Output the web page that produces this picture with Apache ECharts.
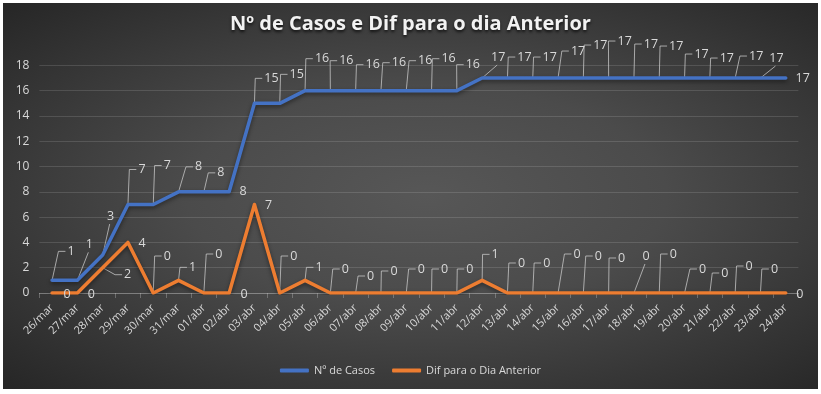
<!DOCTYPE html>
<html><head><meta charset="utf-8">
<script src="https://cdn.jsdelivr.net/npm/echarts@6/dist/echarts.min.js"></script>
<style>
html,body{margin:0;padding:0;background:#fff;width:821px;height:394px;overflow:hidden}
#c{position:absolute;left:3px;top:3px;width:815px;height:386px;
background:radial-gradient(ellipse farthest-corner at 52% 50%, #575757 0%, #4b4b4b 40%, #262626 100%);}
</style></head><body><div id="c"></div>
<script>
const titleText = 'Nº de Casos e Dif para o dia Anterior';
const seriesNames = ['Nº de Casos', 'Dif para o Dia Anterior'];
const categories = ['26/mar','27/mar','28/mar','29/mar','30/mar','31/mar','01/abr','02/abr','03/abr','04/abr',
  '05/abr','06/abr','07/abr','08/abr','09/abr','10/abr','11/abr','12/abr','13/abr','14/abr',
  '15/abr','16/abr','17/abr','18/abr','19/abr','20/abr','21/abr','22/abr','23/abr','24/abr'];
const casos = [1,1,3,7,7,8,8,8,15,15,16,16,16,16,16,16,16,17,17,17,17,17,17,17,17,17,17,17,17,17];
const dif = [0,0,2,4,0,1,0,0,7,0,1,0,0,0,0,0,0,1,0,0,0,0,0,0,0,0,0,0,0,0];
const yTicks = {min: 0, max: 18, interval: 2};

// label placement (pixel offsets of the label centre from its point) - styling only
const casosLabelOffsets = [[19,-29],[12,-36],[8,-39],[14,-35],[14,-39],[20,-25],[17,-19],[14,0],[17,-25],[17,-29],
  [17,-32],[16,-30],[17,-26],[18,-28],[19,-30],[17,-32],[16,-26],[16,-21],[17,-21],[17,-21],
  [20,-27],[17,-33],[16,-37],[17,-34],[17,-32],[17,-24],[17,-20],[21,-22],[16,-20],[17,0]];
const difLabelOffsets = [[15,1],[14,1],[25,7],[14,1],[14,-37],[14,-13],[15,-39],[15,1],[14,1],[14,-37],
  [14,-13],[15,-24],[15,-17],[13,-22],[15,-24],[13,-24],[13,-24],[13,-26],[14,-30],[14,-30],
  [19,-39],[15,-37],[13,-35],[12,-37],[14,-39],[18,-24],[15,-20],[14,-27],[14,-24],[14,1]];
const casosDiagonal = [1,2,17,28];
const difDiagonal = [23];

const FONT = '"Open Sans", "Noto Sans", sans-serif';
const LABEL_FONT = '12.5px ' + FONT;
const LEADER = 'rgba(205,205,205,0.75)';

function labelPos(api, params, offsets){
  const i = api.value(0), v = api.value(1);
  const pt = api.coord([i, v]);
  const o = offsets[params.dataIndex];
  return {px: pt[0], py: pt[1], lx: pt[0] + o[0], ly: pt[1] + o[1], dy: o[1], v: v};
}
function leaderSeries(values, offsets, diag){
  return {
    type: 'custom', silent: true, z: 1, animation: false,
    data: values.map((v, i) => [i, v]),
    encode: {x: 0, y: 1},
    renderItem: function(params, api){
      const p = labelPos(api, params, offsets);
      if (Math.abs(p.dy) <= 3) return null;
      let pts;
      if (diag.indexOf(params.dataIndex) >= 0) {
        pts = [[p.px, p.py], [p.lx - 1, p.ly + 8]];
      } else {
        const w = String(p.v).length * 7.2;
        const endX = p.lx - w/2 - 2;
        pts = [[p.px, p.py], [endX - 7, p.ly], [endX, p.ly]];
      }
      return {type: 'polyline', shape: {points: pts}, style: {stroke: LEADER, lineWidth: 1, fill: null}};
    }
  };
}
function labelSeries(values, offsets){
  return {
    type: 'custom', silent: true, z: 4, animation: false,
    data: values.map((v, i) => [i, v]),
    encode: {x: 0, y: 1},
    renderItem: function(params, api){
      const p = labelPos(api, params, offsets);
      return {type: 'text', x: p.lx, y: p.ly,
        style: {text: String(p.v), fill: '#d9d9d9', font: LABEL_FONT, align: 'center', verticalAlign: 'middle'}};
    }
  };
}
function lineSeries(name, data, color){
  return {
    name: name, type: 'line', data: data, z: 2,
    symbol: 'none', showSymbol: false,
    itemStyle: {color: color},
    lineStyle: {width: 3.5, color: color, cap: 'round', join: 'round',
      shadowColor: 'rgba(0,0,0,0.45)', shadowBlur: 4, shadowOffsetY: 2},
    emphasis: {disabled: true}, silent: true,
    animation: false
  };
}

const chart = echarts.init(document.getElementById('c'), null, {renderer: 'canvas'});
chart.setOption({
  backgroundColor: 'transparent',
  animation: false,
  title: {
    text: titleText, left: 'center', top: 6,
    textStyle: {color: '#f2f2f2', fontSize: 20, fontWeight: 'bold', fontFamily: FONT,
      textShadowColor: 'rgba(0,0,0,0.7)', textShadowBlur: 3, textShadowOffsetY: 2}
  },
  legend: {
    data: seriesNames, bottom: 8, left: 'center', itemWidth: 29, itemHeight: 4, itemGap: 17,
    icon: 'roundRect',
    textStyle: {color: '#d9d9d9', fontSize: 11, fontFamily: FONT}
  },
  grid: {left: 36.4, right: 19.6, top: 62.4, bottom: 96, containLabel: false},
  xAxis: {
    type: 'category', data: categories, boundaryGap: true,
    axisLine: {lineStyle: {color: 'rgba(217,217,217,0.3)'}},
    axisTick: {show: true, length: 5, lineStyle: {color: 'rgba(217,217,217,0.3)'}},
    axisLabel: {rotate: 45, interval: 0, color: '#d9d9d9', fontSize: 11, fontFamily: FONT, margin: 13}
  },
  yAxis: {
    type: 'value', min: yTicks.min, max: yTicks.max, interval: yTicks.interval,
    axisLine: {show: false}, axisTick: {show: false},
    splitLine: {lineStyle: {color: 'rgba(255,255,255,0.13)', width: 1}},
    axisLabel: {color: '#d9d9d9', fontSize: 12, fontFamily: FONT, margin: 10}
  },
  series: [
    lineSeries(seriesNames[0], casos, '#4472C4'),
    lineSeries(seriesNames[1], dif, '#ED7D31'),
    leaderSeries(casos, casosLabelOffsets, casosDiagonal),
    leaderSeries(dif, difLabelOffsets, difDiagonal),
    labelSeries(casos, casosLabelOffsets),
    labelSeries(dif, difLabelOffsets)
  ]
});
</script></body></html>
